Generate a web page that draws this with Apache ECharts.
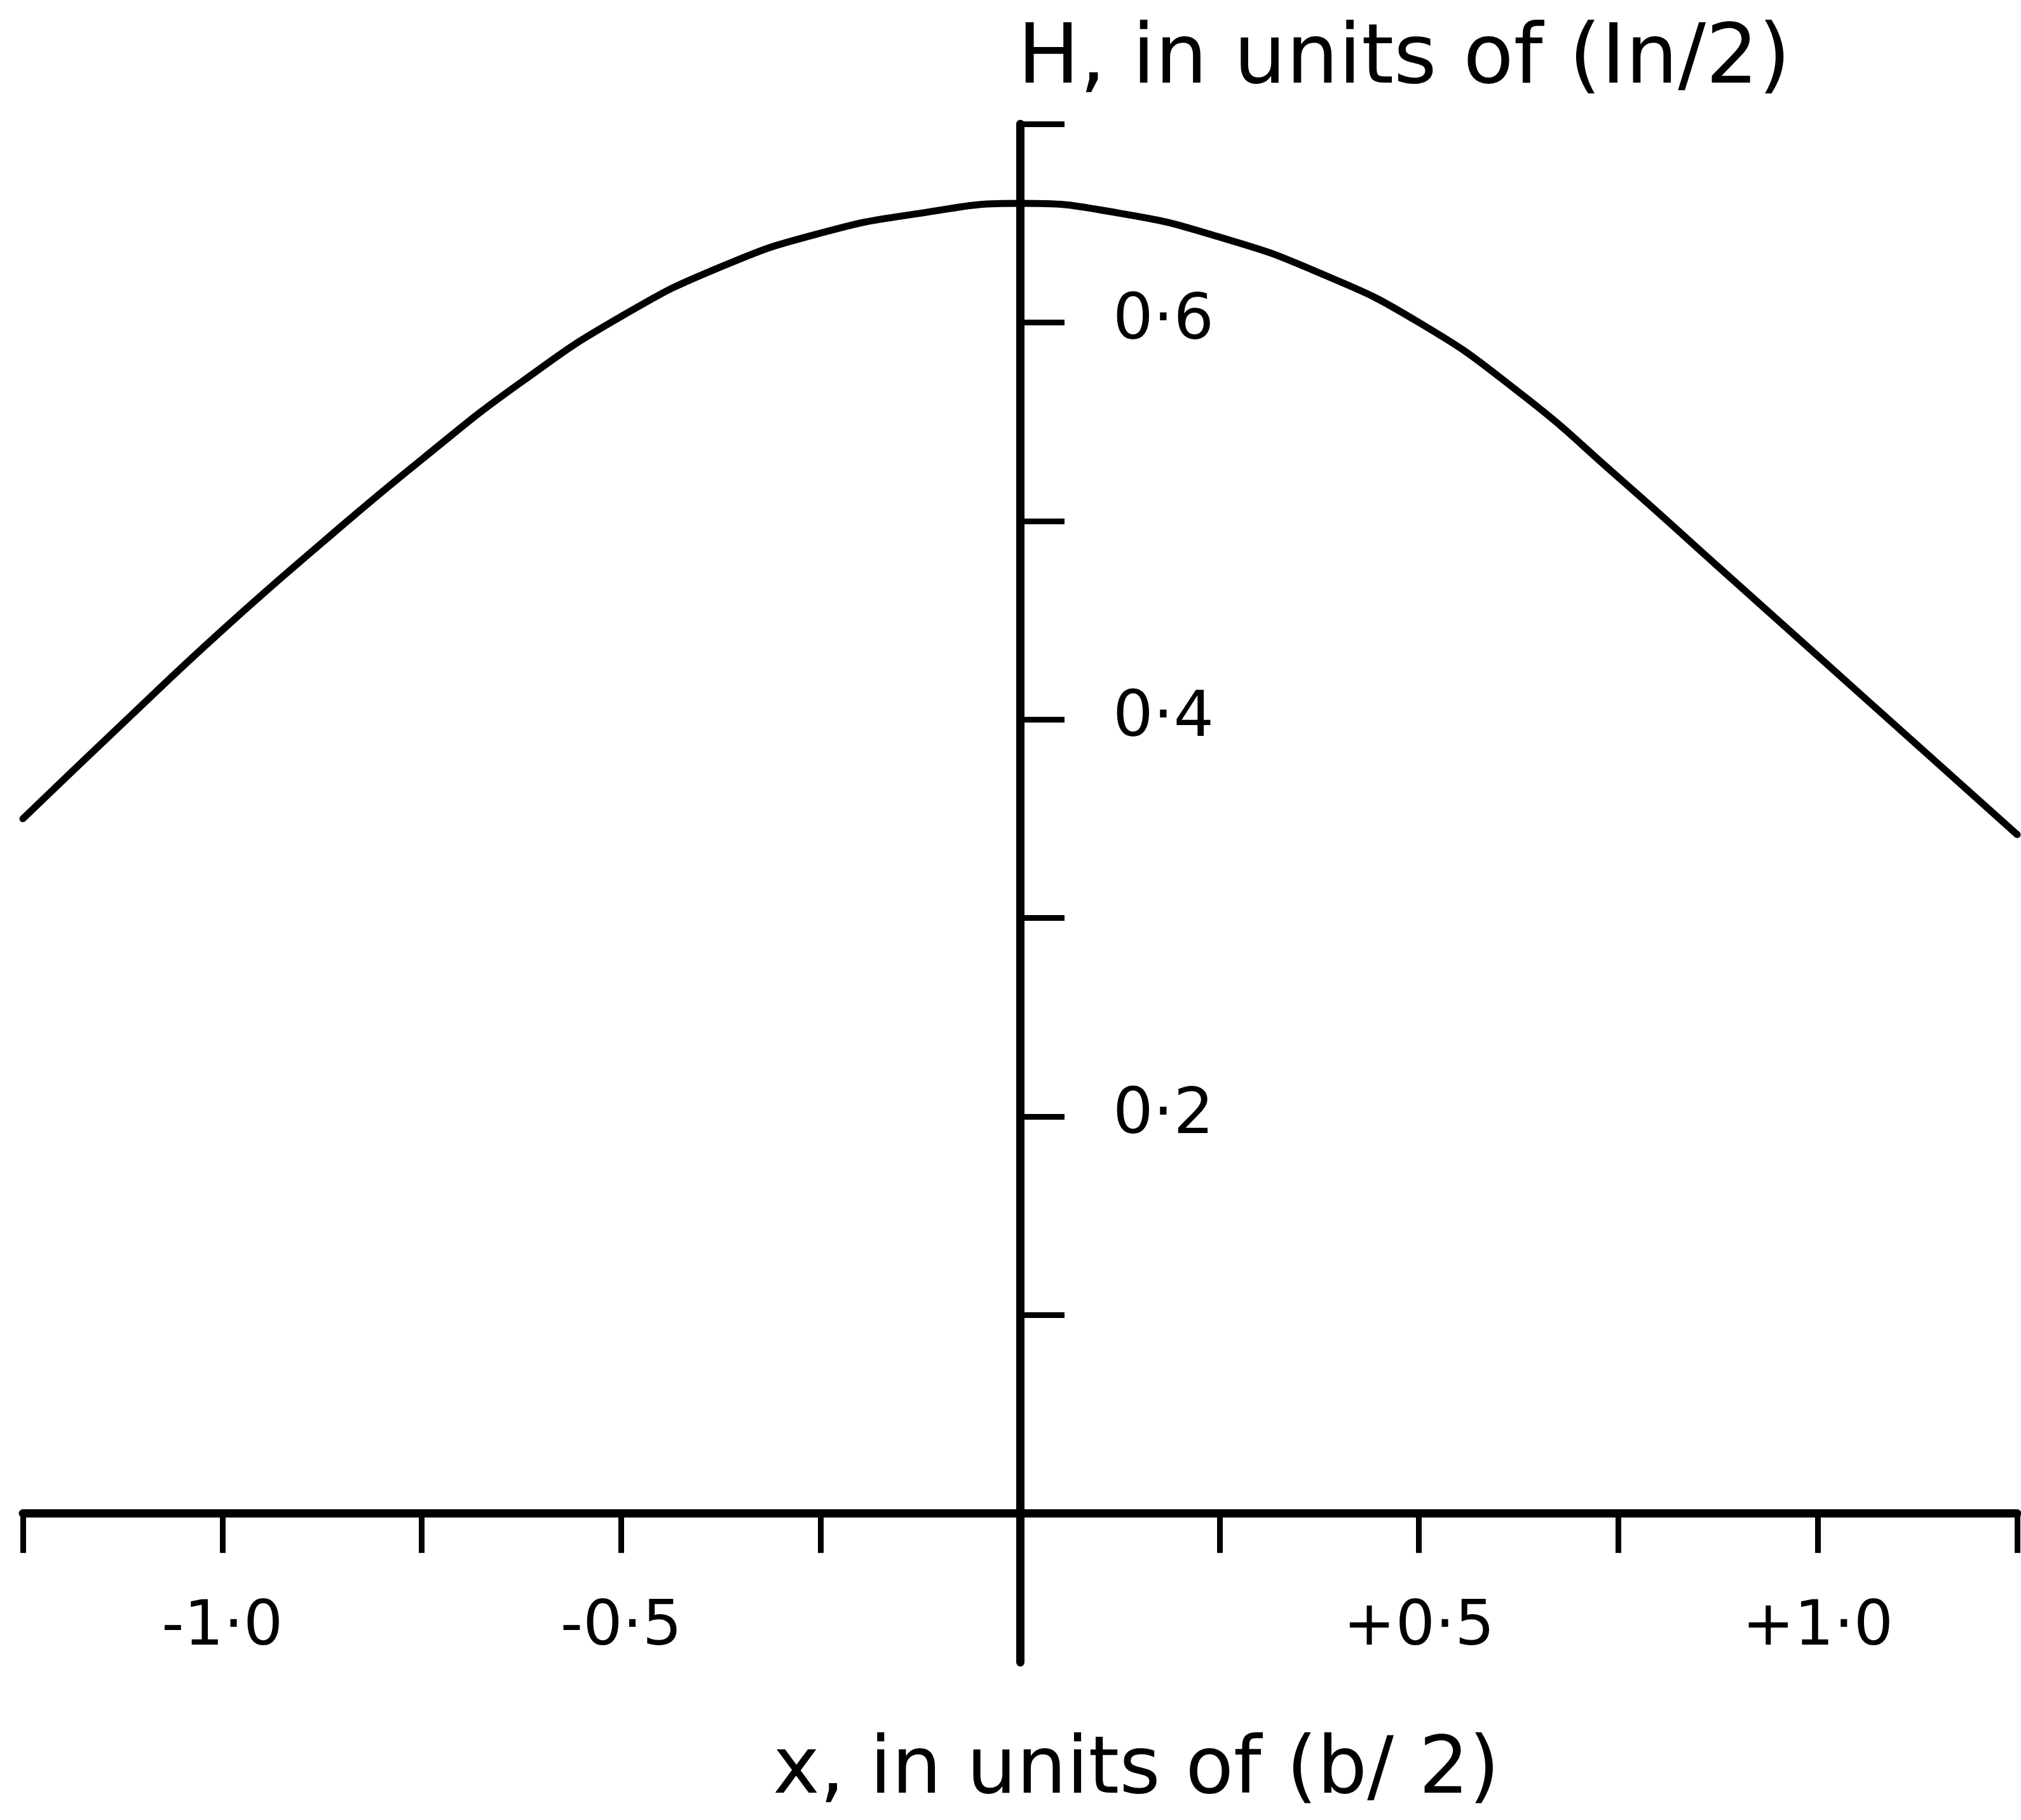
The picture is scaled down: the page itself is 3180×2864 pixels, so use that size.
<!DOCTYPE html>
<html>
<head>
<meta charset="utf-8">
<title>H versus x</title>
<script src="https://cdn.jsdelivr.net/npm/echarts@6/dist/echarts.min.js"></script>
<style>
  html, body { margin: 0; padding: 0; background: #ffffff; }
  #chart { width: 3180px; height: 2864px; }
</style>
</head>
<body>
<div id="chart"></div>
<script>
// Field strength H across the strip, x in units of (b/2)
const xValues = [-1.25, -1.125, -1.0, -0.875, -0.75, -0.625, -0.5, -0.375, -0.25, -0.125,
                 0, 0.125, 0.25, 0.375, 0.5, 0.625, 0.75, 0.875, 1.0, 1.125, 1.25];
const hValues = [0.350, 0.398, 0.445, 0.489, 0.531, 0.570, 0.603, 0.628, 0.645, 0.655,
                 0.660, 0.655, 0.643, 0.625, 0.600, 0.565, 0.522, 0.477, 0.432, 0.387, 0.342];

// Axis ranges
const xMin = -1.25, xMax = 1.25;
const yMin = -0.075, yMax = 0.7;

// Tick positions and the labelled subsets
const xTicks = [-1.25, -1.0, -0.75, -0.5, -0.25, 0, 0.25, 0.5, 0.75, 1.0, 1.25];
const xLabelValues = [-1.0, -0.5, 0.5, 1.0];
const xLabelTexts = ['-1\u00b70', '-0\u00b75', '+0\u00b75', '+1\u00b70'];
const yTicks = [0.1, 0.2, 0.3, 0.4, 0.5, 0.6, 0.7];
const yLabelValues = [0.2, 0.4, 0.6];
const yLabelTexts = ['0\u00b72', '0\u00b74', '0\u00b76'];

const yAxisTitle = 'H, in units of (In/2)';
const xAxisTitle = 'x, in units of (b/ 2)';

const FONT = '"DejaVu Sans", sans-serif';
const INK = '#000000';

function labelFor(values, texts, v) {
  for (let i = 0; i < values.length; i++) {
    if (Math.abs(values[i] - v) < 1e-9) return texts[i];
  }
  return '';
}

const chart = echarts.init(document.getElementById('chart'), null, { renderer: 'canvas' });

chart.setOption({
  backgroundColor: '#ffffff',
  animation: false,
  title: [
    {
      text: yAxisTitle,
      left: 1596,
      top: 26,
      textStyle: { fontFamily: FONT, fontSize: 130, fontWeight: 'normal', color: INK }
    },
    {
      text: xAxisTitle,
      left: 1783,
      top: 2722,
      textAlign: 'center',
      textStyle: { fontFamily: FONT, fontSize: 124, fontWeight: 'normal', color: INK }
    }
  ],
  grid: { left: 36, right: 6, top: 195, bottom: 248, containLabel: false },
  xAxis: {
    type: 'value',
    position: 'bottom',
    min: xMin,
    max: xMax,
    interval: 0.25,
    splitLine: { show: false },
    axisLine: { show: true, onZero: false, lineStyle: { color: INK, width: 13, cap: 'round' } },
    axisTick: {
      show: true,
      customValues: xTicks,
      length: 62,
      lineStyle: { color: INK, width: 9 }
    },
    axisLabel: {
      show: true,
      customValues: xLabelValues,
      margin: 132,
      fontFamily: FONT,
      fontSize: 98,
      color: INK,
      formatter: v => labelFor(xLabelValues, xLabelTexts, v)
    }
  },
  yAxis: {
    type: 'value',
    position: 'left',
    min: yMin,
    max: yMax,
    splitLine: { show: false },
    axisLine: { show: true, onZero: false, lineStyle: { color: INK, width: 13, cap: 'round' } },
    axisTick: {
      show: true,
      inside: true,
      customValues: yTicks,
      length: 70,
      lineStyle: { color: INK, width: 9 }
    },
    axisLabel: {
      show: true,
      inside: true,
      customValues: yLabelValues,
      margin: 146,
      fontFamily: FONT,
      fontSize: 100,
      color: INK,
      formatter: v => labelFor(yLabelValues, yLabelTexts, v)
    }
  },
  series: [
    {
      type: 'line',
      data: xValues.map((x, i) => [x, hValues[i]]),
      smooth: true,
      showSymbol: false,
      clip: false,
      lineStyle: { color: INK, width: 11, cap: 'round', join: 'round' }
    }
  ]
});

// Move the axes so they cross at the origin (x = 0, H = 0), ticks and labels included.
const gridLeftPx = chart.convertToPixel({ xAxisIndex: 0 }, xMin);
const zeroXPx = chart.convertToPixel({ xAxisIndex: 0 }, 0);
const gridBottomPx = chart.convertToPixel({ yAxisIndex: 0 }, yMin);
const zeroYPx = chart.convertToPixel({ yAxisIndex: 0 }, 0);

chart.setOption({
  xAxis: { offset: zeroYPx - gridBottomPx },
  yAxis: { offset: gridLeftPx - zeroXPx }
});
</script>
</body>
</html>
